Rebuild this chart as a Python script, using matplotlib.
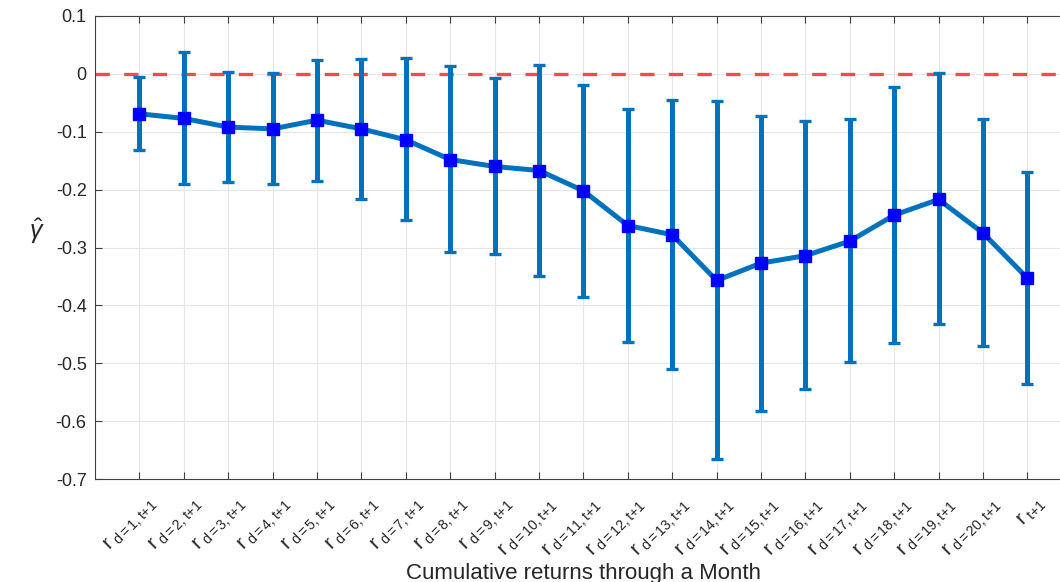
import numpy as np
import matplotlib
matplotlib.use("Agg")
import matplotlib.pyplot as plt
from matplotlib.transforms import ScaledTranslation

# coefficient estimates and confidence bounds
labels = [f"d{{=}}{i},t{{+}}1" for i in range(1, 21)] + ["t{+}1"]
gamma = [-0.069, -0.077, -0.092, -0.095, -0.080, -0.095, -0.114, -0.148,
         -0.160, -0.167, -0.202, -0.262, -0.278, -0.357, -0.327, -0.314,
         -0.289, -0.244, -0.217, -0.275, -0.353]
upper = [-0.005, 0.038, 0.003, 0.001, 0.024, 0.026, 0.027, 0.014,
         -0.007, 0.015, -0.019, -0.061, -0.045, -0.047, -0.073, -0.082,
         -0.078, -0.023, 0.001, -0.078, -0.170]
lower = [-0.132, -0.190, -0.187, -0.190, -0.185, -0.216, -0.253, -0.308,
         -0.311, -0.349, -0.385, -0.463, -0.510, -0.666, -0.582, -0.545,
         -0.497, -0.465, -0.433, -0.471, -0.535]
yticks = [0.1, 0, -0.1, -0.2, -0.3, -0.4, -0.5, -0.6, -0.7]

plt.rcParams['font.family'] = ['Liberation Sans', 'DejaVu Sans']
plt.rcParams['mathtext.fontset'] = 'custom'
plt.rcParams['mathtext.rm'] = 'Liberation Sans'
plt.rcParams['mathtext.it'] = 'Liberation Sans:italic'

x = np.arange(1, len(gamma) + 1)
g = np.array(gamma)
err = np.vstack([g - np.array(lower), np.array(upper) - g])

fig = plt.figure(figsize=(10.6, 5.82), dpi=100)
ax = fig.add_axes([95 / 1060, 1 - 479 / 582, 22 * 44.4 / 1060, 463 / 582])

ax.axhline(0, color='#ff4848', lw=2.4, linestyle=(0, (4.3, 4.3)), zorder=1)
ax.errorbar(x, g, yerr=err, color='#0072BD', lw=3.6, elinewidth=3.6,
            capsize=4, capthick=2.4, marker='s', markersize=8,
            markerfacecolor='#0000FF', markeredgecolor='#0000FF', zorder=3)

ax.set_xlim(0, 22)
ax.set_ylim(-0.7, 0.1)
ax.set_yticks(yticks)
ax.set_yticklabels([f"{v:g}" for v in yticks])

ax.grid(True, color='#e6e6e6', lw=0.8)
ax.set_axisbelow(True)
ax.tick_params(direction='in', top=True, length=5, width=0.8,
               colors='#404040', labelcolor='#262626')
ax.tick_params(axis='y', labelsize=13, pad=6)
ax.tick_params(axis='x', labelsize=14.5, pad=8)
for s in ax.spines.values():
    s.set_color('#404040')
    s.set_linewidth(0.8)

# tick labels last, so tick_params does not reset the offset
ax.set_xticks(x)
ax.set_xticklabels([r"$\mathrm{r}_{\;\mathrm{" + s + "}}$" for s in labels],
                   rotation=45, ha='right', va='top', rotation_mode='anchor')
shift = ScaledTranslation(8 / 100, -4 / 100, fig.dpi_scale_trans)
for lbl in ax.get_xticklabels():
    lbl.set_transform(lbl.get_transform() + shift)

fig.text(584 / 1060, 1 - 563 / 582, "Cumulative returns through a Month",
         fontsize=16, color='#262626', ha='center', va='top')
ax.set_ylabel(r"$\hat{\gamma}$", fontsize=18, rotation=0, color='#262626',
              va='center', ha='center')
ax.yaxis.set_label_coords(-(95 - 37) / (22 * 44.4), 0.535)

fig.savefig("out.png", dpi=100)
